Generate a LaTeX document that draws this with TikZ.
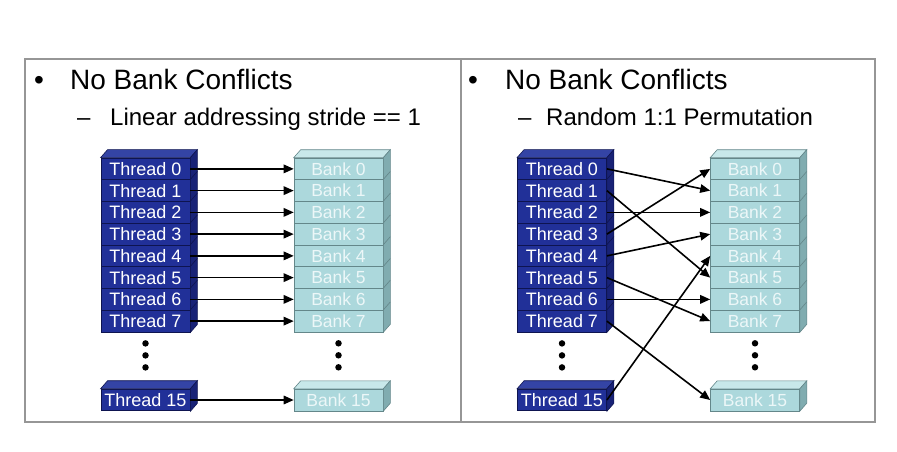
\documentclass[tikz,border=0pt]{standalone}
\usepackage{fontspec}
\setmainfont{Liberation Sans}
\usetikzlibrary{arrows.meta}
\definecolor{thr}{RGB}{33,48,152}
\definecolor{thrtop}{RGB}{52,68,165}
\definecolor{thrside}{RGB}{24,34,118}
\definecolor{thrline}{RGB}{14,20,80}
\definecolor{bnk}{RGB}{172,216,220}
\definecolor{bnktop}{RGB}{200,232,234}
\definecolor{bnkside}{RGB}{128,172,176}
\definecolor{bnkline}{RGB}{100,135,138}
\definecolor{bnktext}{RGB}{236,247,248}
\definecolor{framec}{RGB}{150,150,150}
\tikzset{
  threadbox/.style={draw=thrline, line width=0.8pt, fill=thr, text=white,
    minimum width=89pt, minimum height=21.75pt, inner sep=0pt,
    font=\fontsize{18}{20}\selectfont},
  bankbox/.style={draw=bnkline, line width=0.6pt, fill=bnk, text=bnktext,
    minimum width=89pt, minimum height=21.75pt, inner sep=0pt,
    font=\fontsize{17.5}{20}\selectfont},
  link/.style={-{Triangle[length=10pt,width=8.5pt]}, line width=1.6pt, black},
  titletext/.style={anchor=base west, inner sep=0pt, font=\fontsize{28}{32}\selectfont},
  subtext/.style={anchor=base west, inner sep=0pt, font=\fontsize{24}{28}\selectfont},
  dotmark/.style={circle, fill=black, inner sep=0pt, minimum size=6.5pt},
}
\begin{document}
\begin{tikzpicture}[x=1pt,y=-1pt]
\useasboundingbox (0,0) rectangle (897,452);
\fill[white] (0,0) rectangle (897,452);
% frame
\draw[framec, line width=1.3pt] (25,59) rectangle (875,422);
\draw[framec, line width=1.3pt] (461,59) -- (461,422);
% titles
\node[titletext] (lb) at (34,89) {•};
\node[titletext] (lt) at (70,89) {No Bank Conflicts};
\node[subtext] (ld) at (77,125) {–};
\node[subtext] (ls) at (110,125) {Linear addressing stride == 1};
\node[titletext] (rbul) at (468,89) {•};
\node[titletext] (rt) at (505,89) {No Bank Conflicts};
\node[subtext] (rd) at (518,125) {–};
\node[subtext] (rs) at (546,125) {Random 1:1 Permutation};

% ---------- columns ----------
\foreach \i in {0,...,7} {
  \node[threadbox] (t\i) at (145.5,{158+21.75*(\i+0.5)}) {Thread \i};
  \node[bankbox] (b\i) at (338.5,{158+21.75*(\i+0.5)}) {Bank \i};
  \node[threadbox] (rt\i) at (562,{158+21.75*(\i+0.5)}) {Thread \i};
  \node[bankbox] (rb\i) at (755,{158+21.75*(\i+0.5)}) {Bank \i};
}
\node[threadbox] (t15) at (145.5,400) {Thread 15};
\node[bankbox] (b15) at (338.5,400) {Bank 15};
\node[threadbox] (rt15) at (562,400) {Thread 15};
\node[bankbox] (rb15) at (755,400) {Bank 15};

% bevels for stacks
\foreach \p/\topc/\sidec/\linec in {t/thrtop/thrside/thrline, b/bnktop/bnkside/bnkline, rt/thrtop/thrside/thrline, rb/bnktop/bnkside/bnkline} {
  \filldraw[fill=\topc, draw=\linec, line width=0.6pt] (\p0.north west) -- ++(7,-8) -- ([shift={(7,-8)}]\p0.north east) -- (\p0.north east) -- cycle;
  \filldraw[fill=\sidec, draw=\linec, line width=0.6pt] (\p0.north east) -- ++(7,-8) -- ([shift={(7,-8)}]\p7.south east) -- (\p7.south east) -- cycle;
  \foreach \i in {1,...,7} { \draw[\linec, line width=0.6pt] (\p\i.north east) -- ++(7,-8); }
  \filldraw[fill=\topc, draw=\linec, line width=0.6pt] (\p15.north west) -- ++(7,-8) -- ([shift={(7,-8)}]\p15.north east) -- (\p15.north east) -- cycle;
  \filldraw[fill=\sidec, draw=\linec, line width=0.6pt] (\p15.north east) -- ++(7,-8) -- ([shift={(7,-8)}]\p15.south east) -- (\p15.south east) -- cycle;
}

% dots
\foreach \p in {t,b,rt,rb} {
  \node[dotmark] (\p d1) at ([yshift=-11pt]\p7.south) {};
  \node[dotmark] (\p d2) at ([yshift=-23pt]\p7.south) {};
  \node[dotmark] (\p d3) at ([yshift=-35pt]\p7.south) {};
}

% left links
\foreach \i in {0,...,7} { \draw[link] (t\i.east) -- (b\i.west); }
\draw[link] (t15.east) -- (b15.west);

% right links (permutation)
\foreach \a/\b in {0/1, 1/5, 2/2, 3/0, 4/3, 5/7, 6/6, 7/15, 15/4} {
  \draw[link] (rt\a.east) -- (rb\b.west);
}
\end{tikzpicture}
\end{document}
